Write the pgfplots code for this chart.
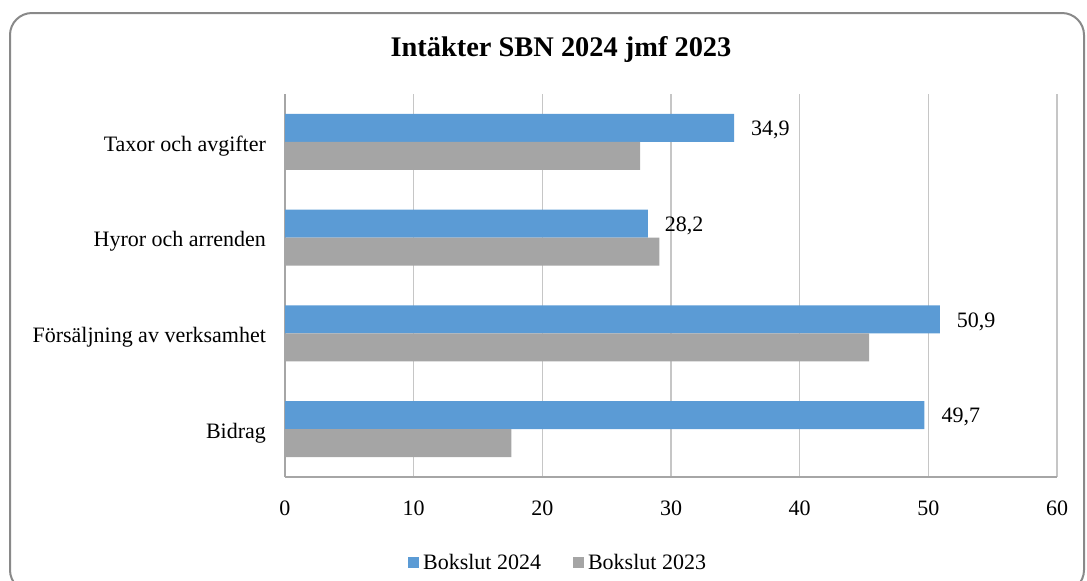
\documentclass[border=0pt]{standalone}
\usepackage{fontspec}
\setmainfont{Liberation Serif}
\usepackage{pgfplots}
\pgfplotsset{compat=1.18}
\definecolor{cblue}{HTML}{5B9BD5}
\definecolor{cgray}{HTML}{A5A5A5}
\definecolor{cgrid}{HTML}{C6C6C6}
\definecolor{caxis}{HTML}{A6A6A6}
\definecolor{cframe}{HTML}{898989}
\begin{document}
\begin{tikzpicture}
\useasboundingbox (0,0) rectangle (543.5pt,-290pt);
\draw[cframe, line width=1pt, rounded corners=11pt] (5pt,-6.5pt) rectangle (542pt,-296pt);
\node[font=\fontsize{14.2}{16}\selectfont\bfseries] at (280.5pt,-25pt) {Intäkter SBN 2024 jmf 2023};
\begin{axis}[
  at={(142.5pt,-238.5pt)}, anchor=south west,
  width=386pt, height=191.5pt, scale only axis,
  /pgf/number format/assume math mode=true,
  font=\fontsize{11}{13}\selectfont,
  xbar, bar width=14pt,
  xmin=0, xmax=60, xtick={0,10,...,60},
  ymin=-0.5, ymax=3.5, ytick={0,1,2,3},
  yticklabels={Bidrag, Försäljning av verksamhet, Hyror och arrenden, Taxor och avgifter},
  axis lines*=left,
  axis line style={draw=caxis, line width=0.75pt},
  major tick length=0pt,
  xmajorgrids, grid style={draw=cgrid, line width=0.75pt},
  xticklabel style={yshift=-8.5pt},
  yticklabel style={xshift=-6pt, yshift=-2pt},
  legend style={at={(0.355,-0.2245)}, anchor=center, draw=none, legend columns=2,
    /tikz/every even column/.append style={column sep=14pt}},
  legend image code/.code={\fill[#1,draw=none] (0pt,-2.75pt) rectangle (5.5pt,2.75pt);},
]
\addplot[fill=cblue, draw=none, bar shift=7pt,
  nodes near coords={\pgfmathprintnumber[use comma,fixed,fixed zerofill,precision=1]{\pgfplotspointmeta}},
  nodes near coords style={anchor=west, xshift=5pt, yshift=-1pt, text=black}]
  coordinates {(49.7,0) (50.9,1) (28.2,2) (34.9,3)};
\addlegendentry{Bokslut 2024}
\addplot[fill=cgray, draw=none, bar shift=-7pt]
  coordinates {(17.6,0) (45.4,1) (29.1,2) (27.6,3)};
\addlegendentry{Bokslut 2023}
\end{axis}
\end{tikzpicture}
\end{document}
